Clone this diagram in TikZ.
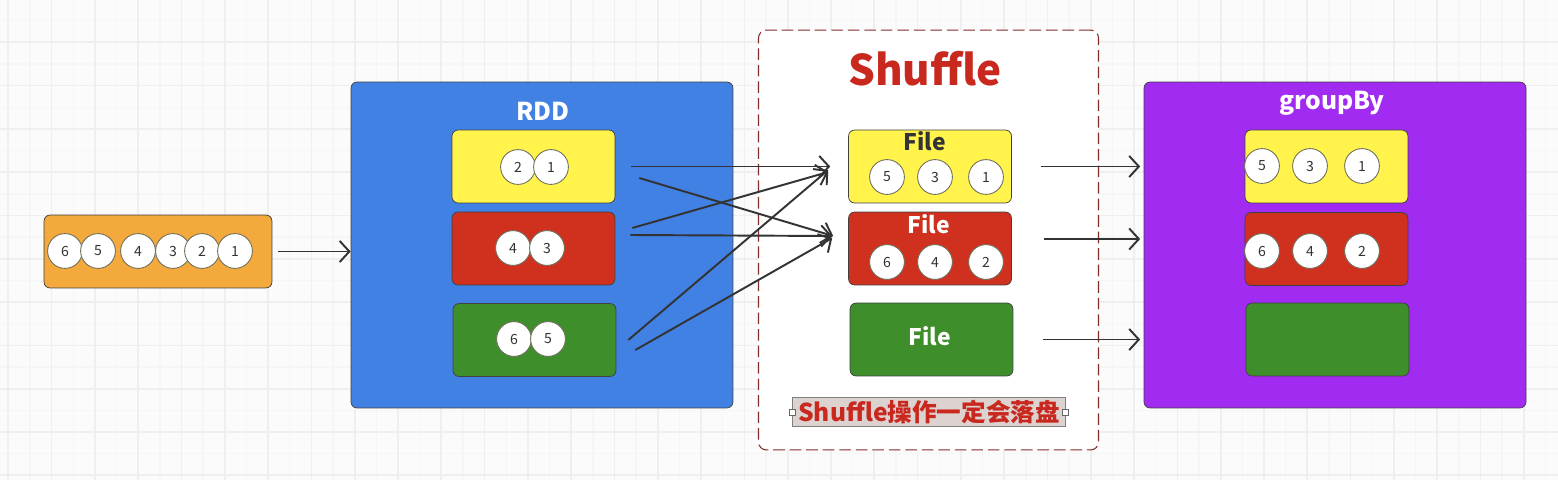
\documentclass[tikz,border=0pt]{standalone}
\usepackage{fontspec}
\setmainfont{Noto Sans CJK SC}
\usetikzlibrary{arrows.meta,positioning}
\definecolor{rddblue}{RGB}{66,129,228}
\definecolor{grpurple}{RGB}{161,43,241}
\definecolor{srcorange}{RGB}{243,169,60}
\definecolor{partyellow}{RGB}{255,243,76}
\definecolor{partred}{RGB}{207,49,30}
\definecolor{partgreen}{RGB}{62,142,43}
\definecolor{shufred}{RGB}{200,40,30}
\definecolor{dashred}{RGB}{130,45,40}
\definecolor{notebg}{RGB}{220,210,208}
\definecolor{balledge}{RGB}{110,110,90}
\definecolor{pagebg}{RGB}{251,251,251}
\definecolor{gridmajor}{RGB}{239,239,239}
\definecolor{gridminor}{RGB}{246,246,246}
\tikzset{
  box/.style={rectangle, rounded corners=3.4pt, draw=black!75, line width=0.4pt},
  part/.style={box, minimum width=92.7pt, minimum height=41.5pt},
  bigbox/.style={box, minimum width=217.4pt, minimum height=185.5pt},
  ball/.style={circle, fill=white, draw=balledge, line width=0.5pt, minimum size=19.8pt,
    inner sep=0pt, font=\fontsize{8}{8}\selectfont, text=black!80},
  title/.style={anchor=base, text=white, font=\bfseries\fontsize{14}{14}\selectfont},
  filetext/.style={anchor=base, text=white, font=\bfseries\fontsize{13}{13}\selectfont},
  flow/.style={->, line width=1.1pt, draw=black!80},
}
\begin{document}
\begin{tikzpicture}[x=0.02cm, y=-0.02cm, >={Straight Barb[length=5.5pt,width=12pt]}]
            \useasboundingbox (0,0) rectangle (1558,480);
            % background grid
            \begin{scope}
            \clip (0,0) rectangle (1558,480);
            \fill[pagebg] (0,0) rectangle (1558,480);
            \foreach \i in {0,...,72}
                {
                \draw[gridminor, line width=0.8pt] ({8.3+21.65*\i},0) -- ++(0,480);
                }
            \foreach \j in {0,...,22}
                {
                \draw[gridminor, line width=0.8pt] (0,{-1+21.65*\j}) -- ++(1558,0);
                }
            \foreach \i in {0,...,36}
                {
                \draw[gridmajor, line width=1pt] ({8.3+43.3*\i},0) -- ++(0,480);
                }
            \foreach \j in {0,...,11}
                {
                \draw[gridmajor, line width=1pt] (0,{-1+43.3*\j}) -- ++(1558,0);
                }
            \end{scope}

            % source data
            \node[box, fill=srcorange, minimum width=129.7pt, minimum height=41.5pt] (src) at (158,251.5) {};
            \foreach \x/\n in {65/6,98/5,138/4,173/3,202/2,235/1}
                {
                \node[ball] (s\n) at (\x,251) {\n};
                }

            % RDD
            \node[bigbox, fill=rddblue] (rdd) at (542,245) {};
            \node[title] (rddtitle) at (543,120) {RDD};
            \node[part, fill=partyellow] (y1) at (533.5,166.5) {};
            \node[part, fill=partred] (r1) at (533.5,248.5) {};
            \node[part, fill=partgreen] (g1) at (534.5,340) {};
            \foreach \x/\y/\n in {518/167/2,551/167/1,513/248/4,547/248/3,514/339/6,548/339/5}
                {
                \node[ball] (p\n) at (\x,\y) {\n};
                }

            % shuffle
            \node[rectangle, rounded corners=4.5pt, fill=white, draw=dashred, line width=0.6pt,
                  dash pattern=on 6.6pt off 2.8pt, minimum width=193.5pt, minimum height=239pt] (shuf) at (928.5,240) {};
            \node[anchor=base, text=shufred, font=\bfseries\fontsize{24}{24}\selectfont] (shuftitle) at (925,85) {Shuffle};
            \node[part, fill=partyellow] (f1) at (930,166.5) {};
            \node[part, fill=partred] (f2) at (930,248.5) {};
            \node[part, fill=partgreen] (f3) at (931.5,339.5) {};
            \node[filetext, text=black!80] (f1text) at (925,150) {File};
            \node[filetext] (f2text) at (929,233) {File};
            \node[filetext] (f3text) at (930,345) {File};
            \foreach \x/\y/\n in {887/177/5,935/177/3,986/177/1,887/262/6,935/262/4,986/262/2}
                {
                \node[ball] (q\n) at (\x,\y) {\n};
                }
            \node[rectangle, fill=notebg, draw=black!50, line width=0.4pt, inner sep=0pt,
                  minimum width=155pt, minimum height=16.5pt, text=shufred,
                  font=\bfseries\fontsize{14}{14}\selectfont] (note) at (929,412) {Shuffle操作一定会落盘};
            \node[rectangle, draw=black!60, fill=white, line width=0.3pt, minimum size=3.4pt, inner sep=0pt] (notel) at (note.west) {};
            \node[rectangle, draw=black!60, fill=white, line width=0.3pt, minimum size=3.4pt, inner sep=0pt] (noter) at (note.east) {};

            % groupBy
            \node[bigbox, fill=grpurple] (gb) at (1335,245) {};
            \node[title] (gbtitle) at (1332,109) {groupBy};
            \node[part, fill=partyellow] (gy) at (1326.5,166.5) {};
            \node[part, fill=partred] (gr) at (1326.5,249) {};
            \node[part, fill=partgreen] (gg) at (1327.5,339.5) {};
            \foreach \x/\y/\n in {1262/166/5,1310/166/3,1362/166/1,1262/251/6,1310/251/4,1362/251/2}
                {
                \node[ball] (t\n) at (\x,\y) {\n};
                }

            % arrows
            \draw[flow, shorten <=3.4pt] (src.east) -- (src.east -| rdd.west);
            \draw[flow] ([shift={(16,0)}]y1.east) -- ([shift={(-18,0)}]f1.west);
            \draw[flow] ([shift={(24,11.5)}]y1.east) -- ([shift={(-15,-12.5)}]f2.west);
            \draw[flow] ([shift={(17,-20.5)}]r1.east) -- ([shift={(-20,5.5)}]f1.west);
            \draw[flow] ([shift={(15,-13.5)}]r1.east) -- ([shift={(-16,-12.5)}]f2.west);
            \draw[flow] ([shift={(12,0)}]g1.east) -- ([shift={(-20,3.5)}]f1.west);
            \draw[flow] ([shift={(19,10)}]g1.east) -- ([shift={(-16,-10.5)}]f2.west);
            \coordinate (f2out) at ([shift={(32,-9.5)}]f2.east);
            \draw[flow, shorten <=16.5pt, shorten >=2pt] (f1.east) -- (f1.east -| gb.west);
            \draw[flow, shorten >=2pt] (f2out) -- (f2out -| gb.west);
            \draw[flow, shorten <=17pt, shorten >=2pt] (f3.east) -- (f3.east -| gb.west);

        \end{tikzpicture}
\end{document}
